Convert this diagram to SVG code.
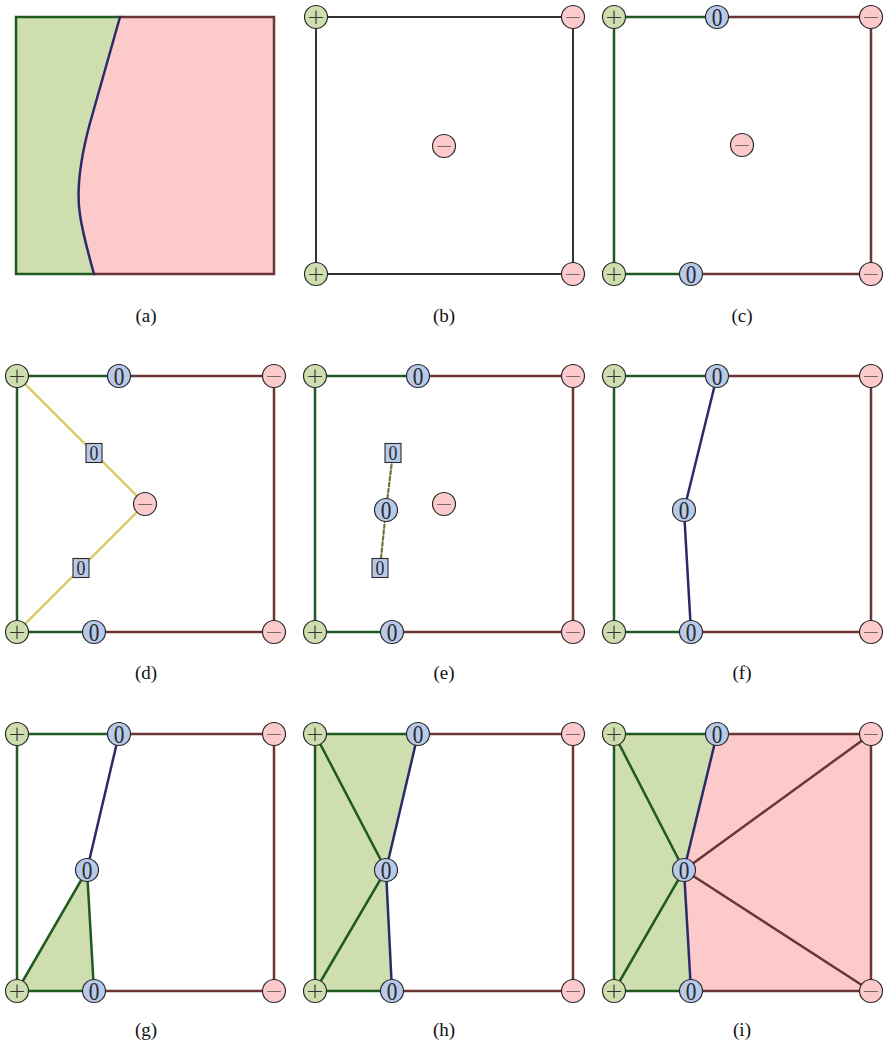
<svg xmlns="http://www.w3.org/2000/svg" width="885" height="1048" viewBox="0 0 885 1048">
<style>
.bg{fill:#ffffff}
.fg{fill:#cfdeae;stroke:none}
.fr{fill:#fdcacb;stroke:none}
.e{fill:none;stroke-width:2.5;stroke-linecap:round}
.eg{stroke:#1f5a22}
.er{stroke:#6b3535}
.eb{stroke:#2b2b6a}
.ek{stroke:#333333;stroke-width:2}
.ey{stroke:#dccb70}
.ed{stroke:#74743a;stroke-width:2.2;stroke-dasharray:3.5 2.5}
.n circle{stroke:#2a2a2a;stroke-width:1.2}
.p circle{fill:#cfdeae}
.m circle{fill:#fdcacb}
.z circle,.s rect{fill:#b8cae9}
.s rect{stroke:#2a2a2a;stroke-width:1.1}
.lbl{font-family:"Liberation Serif","Times New Roman",serif;font-size:19px;text-anchor:middle;fill:#111}
</style>
<defs>
<g id="P" class="n p"><circle r="11.5"/><text y="7.4" font-family="DejaVu Sans, sans-serif" font-weight="200" font-size="22" text-anchor="middle" fill="#333">+</text></g>
<g id="M" class="n m"><circle r="11.5"/><text y="7.4" font-family="DejaVu Sans, sans-serif" font-weight="200" font-size="22" text-anchor="middle" fill="#555">−</text></g>
<g id="Z" class="n z"><circle r="11.5"/><text y="8.6" transform="scale(0.82,1)" font-family="Liberation Serif, serif" font-size="26" text-anchor="middle" fill="#2a2a2a">0</text></g>
<g id="S" class="s"><rect x="-8" y="-9.5" width="16" height="19"/><text y="7" transform="scale(0.85,1)" font-family="Liberation Serif, serif" font-size="21" text-anchor="middle" fill="#2a2a2a">0</text></g>
</defs>
<rect class="bg" x="0" y="0" width="885" height="1048"/>

<!-- Panel a -->
<g id="panel-a">
<path class="fg" d="M16,17 L120,17 L90,123 C80,160 76,190 80,215 C83,235 89,256 94,274 L16,274 Z"/>
<path class="fr" d="M120,17 L274,17 L274,274 L94,274 C89,256 83,235 80,215 C76,190 80,160 90,123 Z"/>
<g id="connectors-a">
<path class="e eg" d="M120,17 L16,17 L16,274 L94,274"/>
<path class="e er" d="M120,17 L274,17 L274,274 L94,274"/>
<path class="e eb" d="M120,17 L90,123 C80,160 76,190 80,215 C83,235 89,256 94,274"/>
</g>
<text class="lbl" x="146" y="322">(a)</text>
</g>

<!-- Panel b -->
<g id="panel-b">
<g id="connectors-b"><rect class="e ek" x="316" y="17" width="257" height="257"/></g>
<use id="b-p1" href="#P" x="316" y="17"/>
<use id="b-p2" href="#P" x="316" y="274"/>
<use id="b-m1" href="#M" x="573" y="17"/>
<use id="b-m2" href="#M" x="573" y="274"/>
<use id="b-m3" href="#M" x="444" y="146"/>
<text class="lbl" x="444" y="322">(b)</text>
</g>

<!-- Panel c -->
<g id="panel-c">
<g id="connectors-c">
<path class="e eg" d="M717,17 L614,17 L614,274 L691,274"/>
<path class="e er" d="M717,17 L871,17 L871,274 L691,274"/>
</g>
<use id="c-p1" href="#P" x="614" y="17"/>
<use id="c-p2" href="#P" x="614" y="274"/>
<use id="c-z1" href="#Z" x="717" y="17"/>
<use id="c-z2" href="#Z" x="691" y="274"/>
<use id="c-m1" href="#M" x="871" y="17"/>
<use id="c-m2" href="#M" x="871" y="274"/>
<use id="c-m3" href="#M" x="742" y="145"/>
<text class="lbl" x="742" y="322">(c)</text>
</g>

<!-- Panel d -->
<g id="panel-d">
<g id="connectors-d">
<path class="e eg" d="M119,376 L17,376 L17,632 L94,632"/>
<path class="e er" d="M119,376 L274,376 L274,632 L94,632"/>
<path class="e ey" d="M17,376 L145,504 L17,632"/>
</g>
<use id="d-p1" href="#P" x="17" y="376"/>
<use id="d-p2" href="#P" x="17" y="632"/>
<use id="d-z1" href="#Z" x="119" y="376"/>
<use id="d-z2" href="#Z" x="94" y="632"/>
<use id="d-m1" href="#M" x="274" y="376"/>
<use id="d-m2" href="#M" x="274" y="632"/>
<use id="d-m3" href="#M" x="145" y="504"/>
<use id="d-s1" href="#S" x="94" y="453"/>
<use id="d-s2" href="#S" x="81" y="568"/>
<text class="lbl" x="146" y="679">(d)</text>
</g>

<!-- Panel e -->
<g id="panel-e">
<g id="connectors-e">
<path class="e eg" d="M418,376 L315,376 L315,632 L392,632"/>
<path class="e er" d="M418,376 L573,376 L573,632 L392,632"/>
<path class="e ed" d="M393,453 L386,510 L380,568"/>
</g>
<use id="e-p1" href="#P" x="315" y="376"/>
<use id="e-p2" href="#P" x="315" y="632"/>
<use id="e-z1" href="#Z" x="418" y="376"/>
<use id="e-z2" href="#Z" x="392" y="632"/>
<use id="e-m1" href="#M" x="573" y="376"/>
<use id="e-m2" href="#M" x="573" y="632"/>
<use id="e-m3" href="#M" x="444" y="504"/>
<use id="e-z3" href="#Z" x="386" y="510"/>
<use id="e-s1" href="#S" x="393" y="453"/>
<use id="e-s2" href="#S" x="380" y="568"/>
<text class="lbl" x="444" y="679">(e)</text>
</g>

<!-- Panel f -->
<g id="panel-f">
<g id="connectors-f">
<path class="e eg" d="M717,376 L614,376 L614,632 L691,632"/>
<path class="e er" d="M717,376 L871,376 L871,632 L691,632"/>
<path class="e eb" d="M717,376 L684,510 L691,632"/>
</g>
<use id="f-p1" href="#P" x="614" y="376"/>
<use id="f-p2" href="#P" x="614" y="632"/>
<use id="f-z1" href="#Z" x="717" y="376"/>
<use id="f-z2" href="#Z" x="691" y="632"/>
<use id="f-m1" href="#M" x="871" y="376"/>
<use id="f-m2" href="#M" x="871" y="632"/>
<use id="f-z3" href="#Z" x="684" y="510"/>
<text class="lbl" x="742" y="679">(f)</text>
</g>

<!-- Panel g -->
<g id="panel-g">
<path class="fg" d="M17,991 L87,870 L94,991 Z"/>
<g id="connectors-g">
<path class="e eg" d="M119,734 L17,734 L17,991 L94,991"/>
<path class="e er" d="M119,734 L274,734 L274,991 L94,991"/>
<path class="e eb" d="M119,734 L87,870"/>
<path class="e eg" d="M17,991 L87,870 L94,991"/>
</g>
<use id="g-p1" href="#P" x="17" y="734"/>
<use id="g-p2" href="#P" x="17" y="991"/>
<use id="g-z1" href="#Z" x="119" y="734"/>
<use id="g-z2" href="#Z" x="94" y="991"/>
<use id="g-m1" href="#M" x="274" y="734"/>
<use id="g-m2" href="#M" x="274" y="991"/>
<use id="g-z3" href="#Z" x="87" y="870"/>
<text class="lbl" x="146" y="1036">(g)</text>
</g>

<!-- Panel h -->
<g id="panel-h">
<path class="fg" d="M315,734 L418,734 L386,870 L392,991 L315,991 Z"/>
<g id="connectors-h">
<path class="e eg" d="M418,734 L315,734 L315,991 L392,991"/>
<path class="e er" d="M418,734 L573,734 L573,991 L392,991"/>
<path class="e eg" d="M315,734 L386,870 L315,991"/>
<path class="e eb" d="M418,734 L386,870 L392,991"/>
</g>
<use id="h-p1" href="#P" x="315" y="734"/>
<use id="h-p2" href="#P" x="315" y="991"/>
<use id="h-z1" href="#Z" x="418" y="734"/>
<use id="h-z2" href="#Z" x="392" y="991"/>
<use id="h-m1" href="#M" x="573" y="734"/>
<use id="h-m2" href="#M" x="573" y="991"/>
<use id="h-z3" href="#Z" x="386" y="870"/>
<text class="lbl" x="444" y="1036">(h)</text>
</g>

<!-- Panel i -->
<g id="panel-i">
<path class="fg" d="M614,734 L717,734 L684,870 L691,991 L614,991 Z"/>
<path class="fr" d="M717,734 L871,734 L871,991 L691,991 L684,870 Z"/>
<g id="connectors-i">
<path class="e eg" d="M717,734 L614,734 L614,991 L691,991"/>
<path class="e er" d="M717,734 L871,734 L871,991 L691,991"/>
<path class="e eg" d="M614,734 L684,870 L614,991"/>
<path class="e er" d="M871,734 L684,870 L871,991"/>
<path class="e eb" d="M717,734 L684,870 L691,991"/>
</g>
<use id="i-p1" href="#P" x="614" y="734"/>
<use id="i-p2" href="#P" x="614" y="991"/>
<use id="i-z1" href="#Z" x="717" y="734"/>
<use id="i-z2" href="#Z" x="691" y="991"/>
<use id="i-m1" href="#M" x="871" y="734"/>
<use id="i-m2" href="#M" x="871" y="991"/>
<use id="i-z3" href="#Z" x="684" y="870"/>
<text class="lbl" x="742" y="1036">(i)</text>
</g>
</svg>
